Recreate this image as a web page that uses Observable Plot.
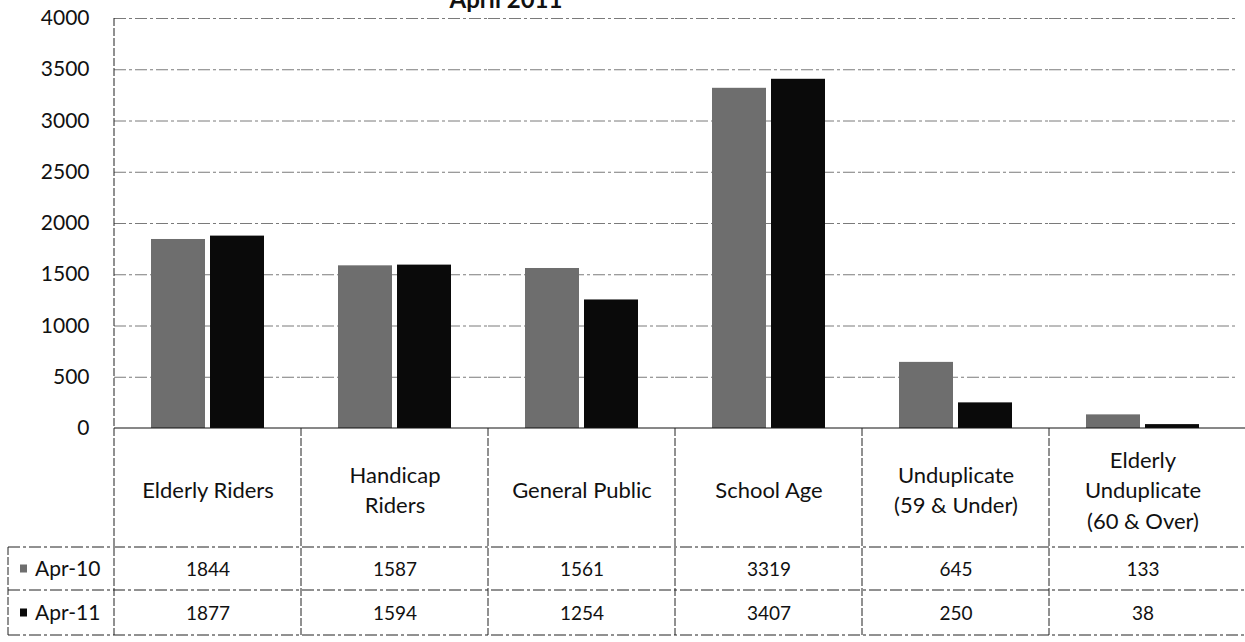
<!DOCTYPE html>
<html>
<head>
<meta charset="utf-8">
<script src="https://cdn.jsdelivr.net/npm/d3@7"></script>
<script src="https://cdn.jsdelivr.net/npm/@observablehq/plot@0.6"></script>
<style>
  html, body { margin: 0; padding: 0; background: #fff; }
  #wrap { position: relative; width: 1245px; height: 642px; overflow: hidden; }
  #title { position: absolute; left: 0; top: -13px; width: 1012px; text-align: center;
           font: bold 24px/1 Lato, "Open Sans", sans-serif; color: #111; z-index: 2; }
</style>
</head>
<body>
<div id="wrap"><div id="title"></div></div>
<script>
const title = "April 2011";
const categories = ["Elderly Riders", "Handicap Riders", "General Public", "School Age", "Unduplicate (59 & Under)", "Elderly Unduplicate (60 & Over)"];
const categoryLabels = ["Elderly Riders", "Handicap\nRiders", "General Public", "School Age", "Unduplicate\n(59 & Under)", "Elderly\nUnduplicate\n(60 & Over)"];
const series = ["Apr-10", "Apr-11"];
const apr10 = [1844, 1587, 1561, 3319, 645, 133];
const apr11 = [1877, 1594, 1254, 3407, 250, 38];
const yTicks = [0, 500, 1000, 1500, 2000, 2500, 3000, 3500, 4000];
const colors = ["#6e6e6e", "#0a0a0a"];

const data = categories.flatMap((c, i) => [
  {category: c, series: series[0], value: apr10[i]},
  {category: c, series: series[1], value: apr11[i]}
]);

document.getElementById("title").textContent = title;

const W = 1245, H = 642;
const chart = Plot.plot({
  width: W, height: H,
  marginLeft: 113, marginRight: 8, marginTop: 18, marginBottom: 214,
  style: {fontFamily: "Lato, 'Open Sans', sans-serif", fontSize: "21px", background: "white", color: "#111", overflow: "visible"},
  fx: {domain: categories, padding: 0, axis: null, label: null},
  x: {domain: series, paddingInner: 0.083, paddingOuter: 0.6, axis: null, label: null},
  y: {domain: [0, 4000], ticks: yTicks, tickFormat: d => String(d), tickSize: 0, tickPadding: 25, label: null},
  color: {domain: series, range: colors},
  marks: [
    Plot.gridY(yTicks.filter(t => t > 0), {stroke: "#222", strokeOpacity: 0.6, strokeDasharray: "12,3,3,3"}),
    Plot.barY(data, {fx: "category", x: "series", y: "value", fill: "series"}),
    Plot.text(categories, {fx: d => d, text: (d, i) => categoryLabels[i], frameAnchor: "bottom", dy: 60,
      lineAnchor: "middle", fontSize: 22, lineHeight: 1.38, fill: "#111"}),
    Plot.text(data.filter(d => d.series === series[0]), {fx: "category", text: d => String(d.value),
      frameAnchor: "bottom", dy: 141, lineAnchor: "middle", fontSize: 19, fill: "#111"}),
    Plot.text(data.filter(d => d.series === series[1]), {fx: "category", text: d => String(d.value),
      frameAnchor: "bottom", dy: 185, lineAnchor: "middle", fontSize: 19, fill: "#111"})
  ]
});
document.getElementById("wrap").appendChild(chart);

// data table lines and legend, positioned from the chart's own scales
const svg = d3.select(chart);
const fx = chart.scale("fx");
const y = chart.scale("y");
const y0 = y.apply(0);
const yTop = y.apply(4000);
const edges = categories.map(c => fx.apply(c));
const rows = [y0, y0 + 119, y0 + 162, y0 + 207];
const legendLeft = 8;

const g = svg.append("g").attr("stroke", "#222").attr("stroke-width", 1).attr("fill", "none");
const dash = "12,3,3,3";
g.append("line").attr("x1", edges[0]).attr("x2", W).attr("y1", y0).attr("y2", y0).attr("stroke", "#111");
rows.slice(1).forEach(r => g.append("line").attr("x1", legendLeft).attr("x2", W).attr("y1", r).attr("y2", r).attr("stroke-dasharray", dash));
g.append("line").attr("x1", edges[0]).attr("x2", edges[0]).attr("y1", yTop).attr("y2", rows[3]).attr("stroke-dasharray", "8,2");
edges.slice(1).forEach(x => g.append("line").attr("x1", x).attr("x2", x).attr("y1", y0).attr("y2", rows[3]).attr("stroke-dasharray", "8,2"));
g.append("line").attr("x1", legendLeft).attr("x2", legendLeft).attr("y1", rows[1]).attr("y2", rows[3]).attr("stroke-dasharray", "8,2");

series.forEach((s, i) => {
  const cy = (rows[i + 1] + rows[i + 2]) / 2;
  svg.append("rect").attr("x", 20).attr("y", cy - 4).attr("width", 7).attr("height", 8).attr("fill", colors[i]);
  svg.append("text").attr("x", 35).attr("y", cy).attr("dy", "0.35em").attr("text-anchor", "start")
    .attr("font-size", 21).attr("fill", "#111").text(s);
});
</script>
</body>
</html>
